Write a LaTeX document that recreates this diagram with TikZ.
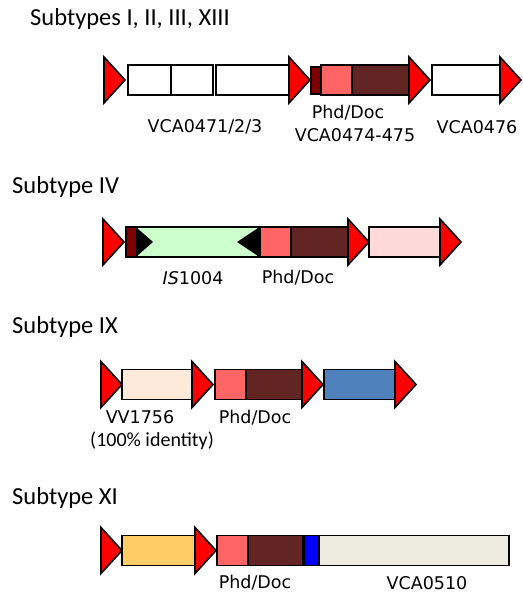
\documentclass[tikz,border=0pt]{standalone}
\usepackage{fontspec}
\usepackage{tikz}
\usetikzlibrary{positioning}
\newfontfamily\titlefont{Carlito}
\newfontfamily\genefont{DejaVu Sans}
\definecolor{ismaroon}{HTML}{7F0000}
\definecolor{phdred}{HTML}{FF6565}
\definecolor{docbrown}{HTML}{632523}
\definecolor{isgreen}{HTML}{CCFFCC}
\definecolor{genepink}{HTML}{FFDADA}
\definecolor{genecream}{HTML}{FDEADA}
\definecolor{geneblue}{HTML}{4F81BD}
\definecolor{geneorange}{HTML}{FFCC66}
\definecolor{genebeige}{HTML}{EEECE1}
\tikzset{
  gene/.style={draw=black,line width=1.6pt},
  repeatarrow/.pic={\draw[gene,fill=red,line join=miter] (0,-23) -- (21,0) -- (0,23) -- cycle;},
  invrep/.style={fill=black,draw=none},
  subtitle/.style={font=\titlefont\fontsize{24.5}{28}\selectfont,anchor=base west,inner sep=0},
  genename/.style={font=\genefont\fontsize{17.5}{20}\selectfont,inner sep=0}
}
\begin{document}
\begin{tikzpicture}[x=1pt,y=-1pt]
      \useasboundingbox[fill=white] (0,0) rectangle (522,593);
      % subtypes I, II, III, XIII
      \node[subtitle] (ttlA) at (30,26) {Subtypes I, II, III, XIII};
      \begin{scope}[shift={(0,80)}]
        \pic (ra1) at (104,0) {repeatarrow};
        \draw[gene] (128,-15) rectangle (213,15);
        \draw[gene,line width=2.6pt] (171,-15) -- (171,15);
        \draw[gene] (216,-15) rectangle (289,15);
        \pic (ra2) at (289,0) {repeatarrow};
        \draw[gene,fill=phdred] (321,-15) rectangle (352,15);
        \draw[gene,fill=docbrown] (352,-15) rectangle (409,15);
        \draw[gene,fill=ismaroon] (311,-13) rectangle (321,14);
        \pic (ra3) at (409,0) {repeatarrow};
        \draw[gene] (432,-15) rectangle (502,15);
        \pic (ra4) at (500,0) {repeatarrow};
        \node[genename] (vcaA) at (205,47) {VCA0471/2/3};
        \node[genename] (phdA) at (348,33) {Phd/Doc};
        \node[genename] (vcaB) at (355,55) {VCA0474-475};
        \node[genename] (vcaC) at (477,47) {VCA0476};
      \end{scope}
      % subtype IV
      \node[subtitle] (ttlB) at (12,194) {Subtype IV};
      \begin{scope}[shift={(0,242)}]
        \pic (rb1) at (103,0) {repeatarrow};
        \draw[gene,fill=ismaroon] (126,-15) rectangle (137,15);
        \draw[gene,fill=isgreen] (137,-15) rectangle (258,15);
        \fill[invrep] (137,-14) -- (153,0) -- (137,14) -- cycle;
        \fill[invrep] (258,-14) -- (237,0) -- (258,14) -- cycle;
        \draw[gene] (126,-15) rectangle (258,15);
        \draw[gene,fill=phdred] (260,-15) rectangle (291,15);
        \draw[gene,fill=docbrown] (291,-15) rectangle (349,15);
        \pic (rb2) at (348,0) {repeatarrow};
        \draw[gene,fill=genepink] (369,-15) rectangle (440,15);
        \pic (rb3) at (440,0) {repeatarrow};
        \node[genename] (isB) at (193,36) {\textit{IS}1004};
        \node[genename] (phdB) at (298,36) {Phd/Doc};
      \end{scope}
      % subtype IX
      \node[subtitle] (ttlC) at (12,333) {Subtype IX};
      \begin{scope}[shift={(0,384.5)}]
        \pic (rc1) at (101,0) {repeatarrow};
        \draw[gene,fill=genecream] (122,-15) rectangle (193,15);
        \pic (rc2) at (192,0) {repeatarrow};
        \draw[gene,fill=phdred] (215,-15) rectangle (246,15);
        \draw[gene,fill=docbrown] (246,-15) rectangle (303,15);
        \pic (rc3) at (302,0) {repeatarrow};
        \draw[gene,fill=geneblue] (324,-15) rectangle (396,15);
        \pic (rc4) at (395,0) {repeatarrow};
        \node[genename] (vvC) at (140,33) {VV1756};
        \node[genename,font=\titlefont\fontsize{20}{24}\selectfont] (idC) at (152,56) {(100\% identity)};
        \node[genename] (phdC) at (255,33.5) {Phd/Doc};
      \end{scope}
      % subtype XI
      \node[subtitle] (ttlD) at (12,504) {Subtype XI};
      \begin{scope}[shift={(0,550.5)}]
        \pic (rd1) at (101,0) {repeatarrow};
        \draw[gene,fill=geneorange] (122,-15) rectangle (196,15);
        \pic (rd2) at (195,0) {repeatarrow};
        \draw[gene,fill=phdred] (217,-15) rectangle (248,15);
        \draw[gene,fill=docbrown] (248,-15) rectangle (303,15);
        \draw[gene,fill=blue] (304,-15) rectangle (319,15);
        \draw[gene,fill=genebeige] (319,-15) rectangle (509,15);
        \node[genename] (phdD) at (255,32.5) {Phd/Doc};
        \node[genename] (vcaD) at (427,32.5) {VCA0510};
      \end{scope}
\end{tikzpicture}
\end{document}
